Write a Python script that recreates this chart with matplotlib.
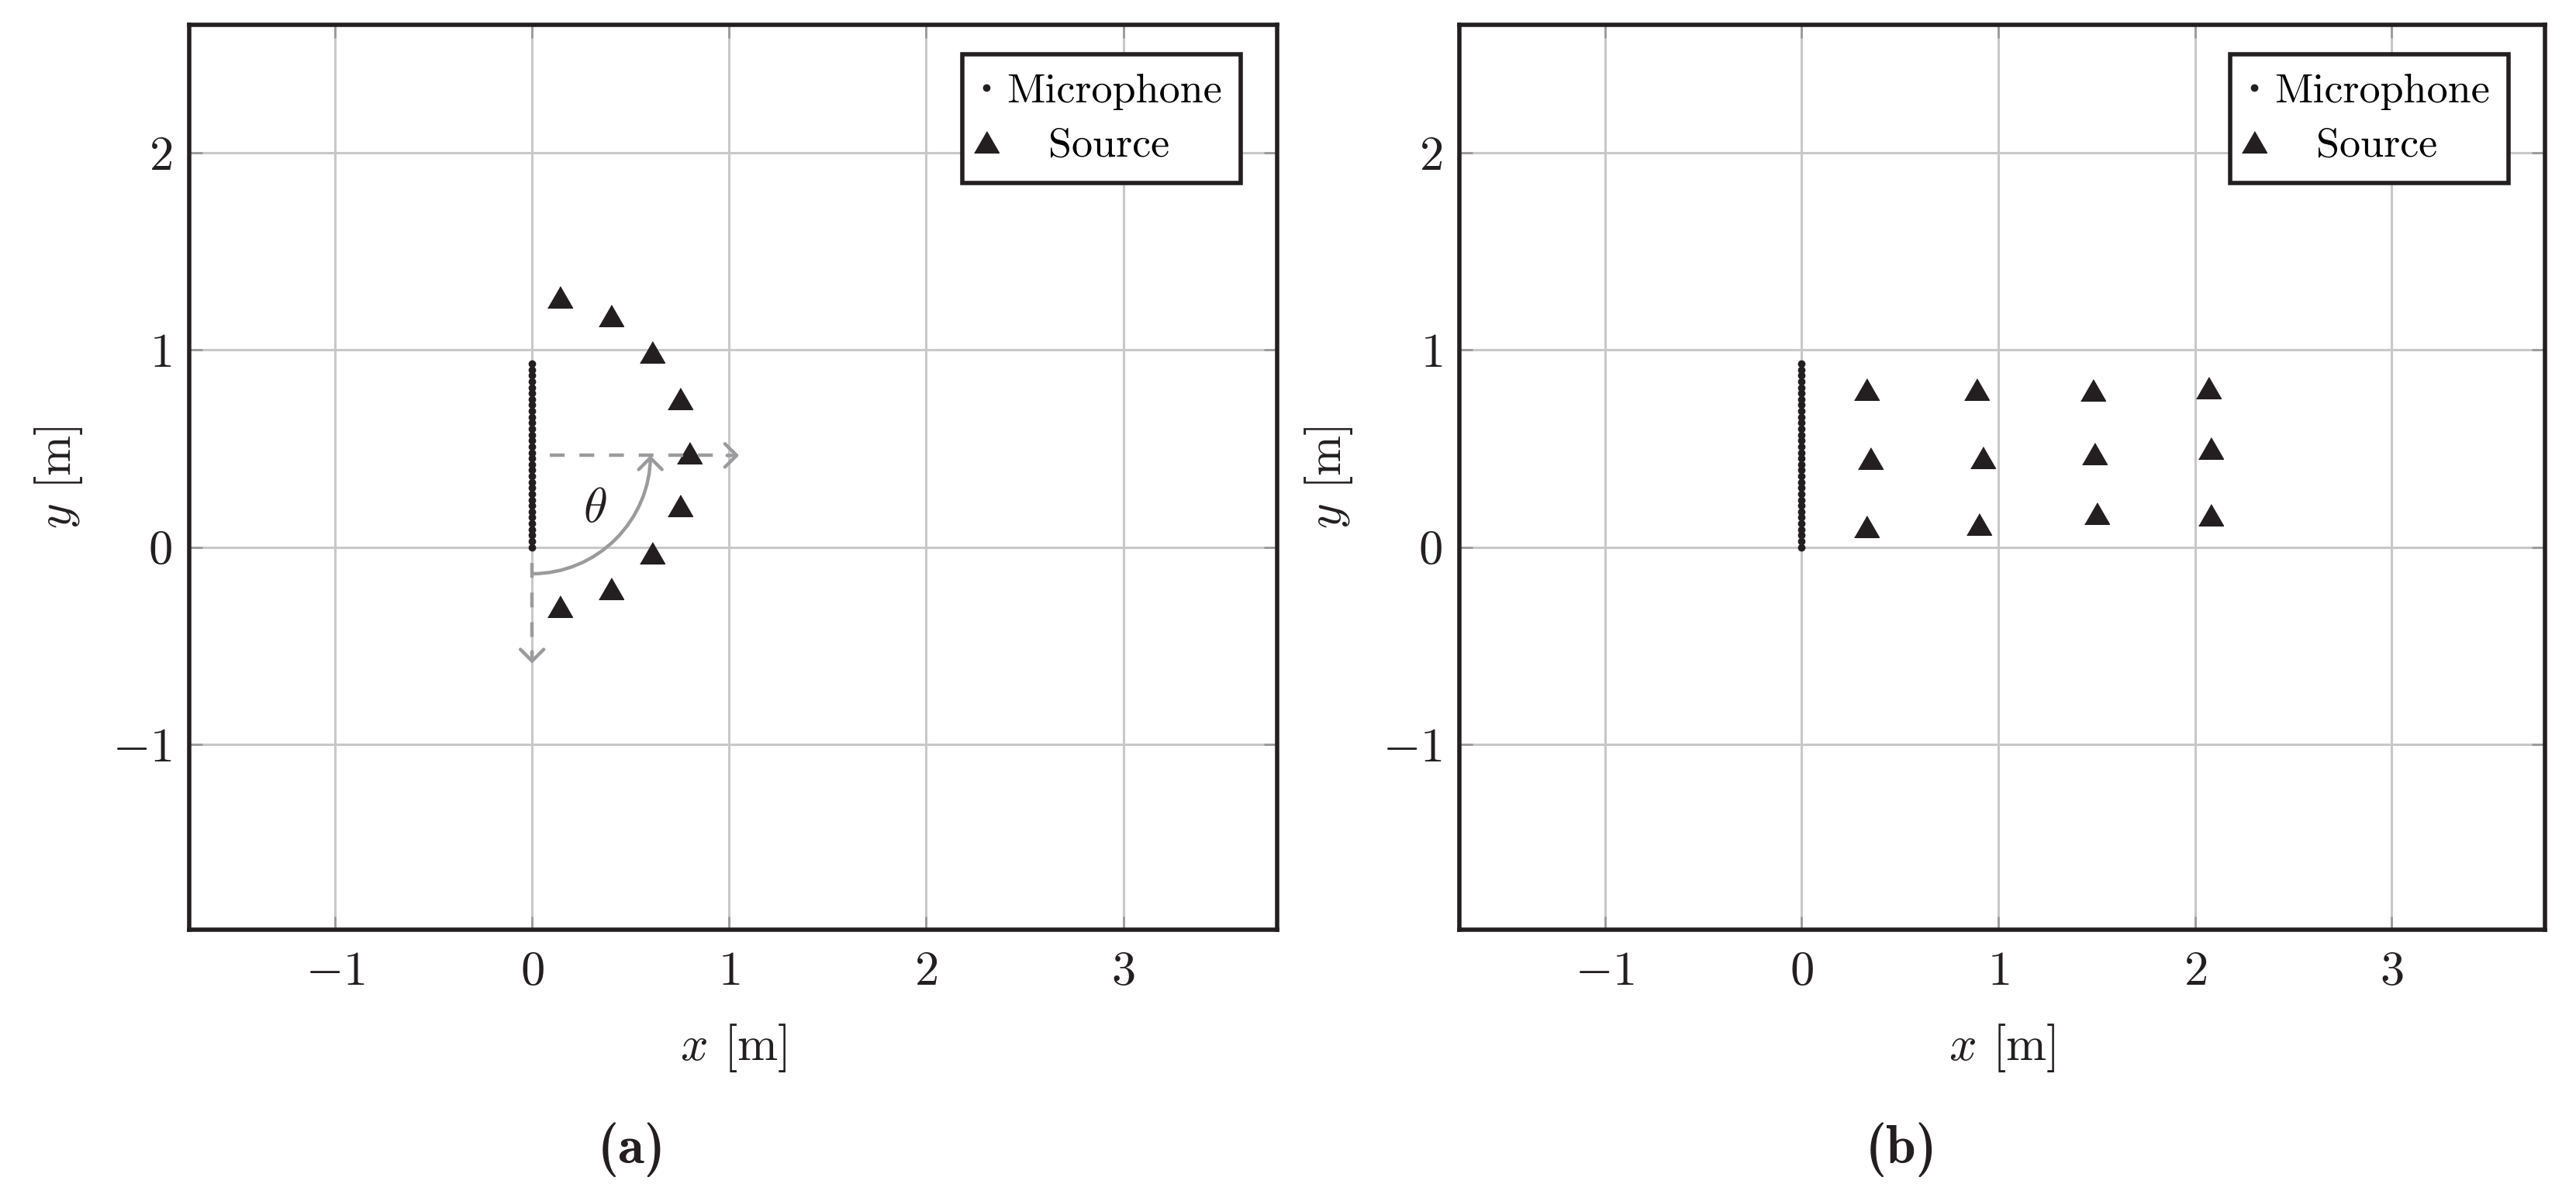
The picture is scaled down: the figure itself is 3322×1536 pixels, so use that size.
import matplotlib
matplotlib.use("Agg")
import matplotlib.pyplot as plt
from matplotlib.patches import FancyArrowPatch
from matplotlib.path import Path
from matplotlib.transforms import Affine2D

plt.rcParams['font.family'] = 'cmr10'
plt.rcParams['mathtext.fontset'] = 'cm'
plt.rcParams['axes.formatter.use_mathtext'] = True
plt.rcParams['font.size'] = 45

dark = '#231f20'
gray = '#9b9b9d'

# linear microphone array along x = 0
mic_y = [0.00, 0.03, 0.06, 0.09, 0.12, 0.15, 0.18, 0.21, 0.24, 0.27, 0.30,
         0.33, 0.36, 0.39, 0.42, 0.45, 0.48, 0.51, 0.54, 0.57, 0.60, 0.63,
         0.66, 0.69, 0.72, 0.75, 0.78, 0.81, 0.84, 0.87, 0.90, 0.93]
mic_x = [0.0] * len(mic_y)

# (a) sources around the array
src_a_x = [0.14, 0.40, 0.61, 0.75, 0.80, 0.75, 0.61, 0.40, 0.14]
src_a_y = [1.27, 1.175, 0.99, 0.755, 0.48, 0.21, -0.03, -0.21, -0.30]

# (b) sources on a rough grid
src_b_x = [0.33, 0.89, 1.48, 2.07, 0.35, 0.92, 1.49, 2.08, 0.33, 0.90, 1.50, 2.08]
src_b_y = [0.80, 0.80, 0.795, 0.81, 0.45, 0.455, 0.475, 0.50, 0.105, 0.115, 0.17, 0.165]

# angle annotation in (a)
ref_y = 0.465
arc_r = 0.6
theta_pos = (0.32, 0.19)

xticks = [-1, 0, 1, 2, 3]
yticks = [-1, 0, 1, 2]

tri = [(-1, -0.866), (1, -0.866), (0, 0.866)]


def setup(ax, src_x, src_y):
    ax.set_xlim(-1.74, 3.78)
    ax.set_ylim(-1.94, 2.65)
    ax.set_xticks(xticks)
    ax.set_yticks(yticks)
    ax.grid(True, color='#c8c8c8', lw=2.2)
    ax.set_axisbelow(True)
    ax.tick_params(direction='in', length=12, width=2, color='#9a9a9a',
                   top=True, right=True, labelsize=45, colors=dark)
    ax.tick_params(axis='x', pad=20)
    ax.tick_params(axis='y', pad=16)
    for s in ax.spines.values():
        s.set_linewidth(4)
        s.set_color(dark)
    ax.set_xlabel(r'$x$ [m]', labelpad=26, color=dark)
    ax.set_ylabel(r'$y$ [m]', labelpad=26, color=dark)
    ax.plot(mic_x, mic_y, 'o', ms=6, color=dark, ls='none', label='Microphone')
    ax.plot(src_x, src_y, marker=tri, ms=23, color=dark, ls='none',
            label='Source')
    leg = ax.legend(loc='upper right', bbox_to_anchor=(0.9665, 0.9674),
                    borderaxespad=0, handlelength=0.25, handletextpad=0.35,
                    borderpad=0.45, labelspacing=0.4,
                    fancybox=False, framealpha=1, edgecolor=dark, fontsize=39)
    leg.get_frame().set_linewidth(4)
    # centre the second label like the original
    leg.get_texts()[1].set_text('   Source')
    return leg


fig = plt.figure(figsize=(33.23, 15.36), dpi=100)
ax1 = fig.add_axes([0.0734, 0.2194, 0.4222, 0.760])
ax2 = fig.add_axes([0.5664, 0.2194, 0.4213, 0.760])

setup(ax1, src_a_x, src_a_y)
setup(ax2, src_b_x, src_b_y)

head = '->,head_length=0.3,head_width=0.3'
lw_ann = 3.2
# dashed reference directions
ax1.plot([0.09, 1.0], [ref_y, ref_y], color=gray, lw=lw_ann, ls=(0, (4.3, 4.3)))
ax1.annotate('', xy=(1.05, ref_y), xytext=(0.99, ref_y),
             arrowprops=dict(arrowstyle=head, color=gray, lw=lw_ann,
                             mutation_scale=36, shrinkA=0, shrinkB=0))
ax1.plot([0, 0], [-0.08, -0.54], color=gray, lw=lw_ann, ls=(0, (4.3, 4.3)))
ax1.annotate('', xy=(0, -0.59), xytext=(0, -0.53),
             arrowprops=dict(arrowstyle=head, color=gray, lw=lw_ann,
                             mutation_scale=36, shrinkA=0, shrinkB=0))
# angle arc
arc = Path.arc(-90, 0).transformed(Affine2D().scale(arc_r).translate(0, ref_y))
ax1.add_patch(FancyArrowPatch(path=arc, arrowstyle=head, color=gray, lw=lw_ann,
                              mutation_scale=36, shrinkA=0, shrinkB=0))
ax1.text(theta_pos[0], theta_pos[1], r'$\theta$', ha='center', va='center',
         fontsize=45, color=dark)

fig.text(0.245, 0.0345, '(a)', family='cmb10', ha='center', va='center',
         fontsize=50, color=dark)
fig.text(0.738, 0.0345, '(b)', family='cmb10', ha='center', va='center',
         fontsize=50, color=dark)

fig.savefig('out.png', dpi=100)
